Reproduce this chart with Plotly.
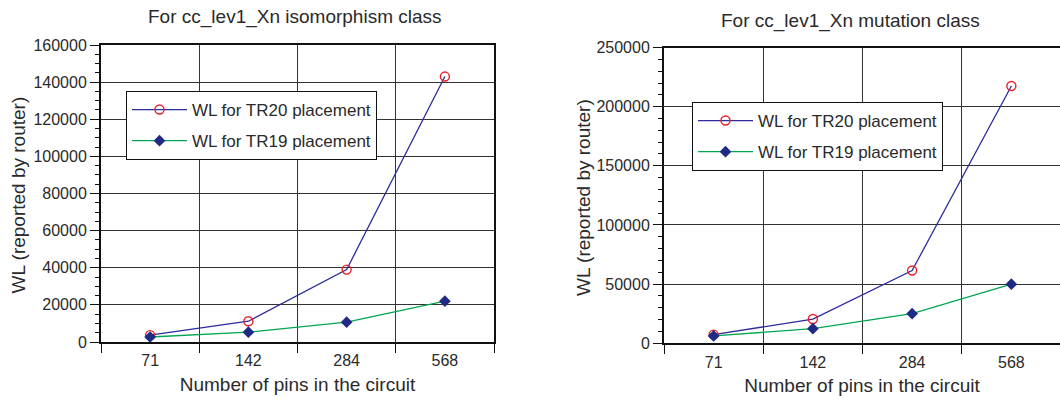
import plotly.graph_objects as go

# Circuit sizes (x categories) and wirelength results reported by the router
pins = ["71", "142", "284", "568"]

iso_tr20 = [3700, 11200, 39000, 143000]
iso_tr19 = [2700, 5300, 10700, 22000]

mut_tr20 = [7300, 20500, 61500, 217500]
mut_tr19 = [6200, 12400, 25000, 50000]

name_tr20 = "WL for TR20 placement"
name_tr19 = "WL for TR19 placement"

FONT = "Liberation Sans, Arial, sans-serif"
TEXT = "#2a2a2a"
LINE20 = "#2c2c9c"
LINE19 = "#00a651"
MARK20 = "#e8202a"
MARK19 = "#1f2a85"

W, H = 1060, 402


def px_x(v):
    return v / W


def px_y(v):
    return (H - v) / H


fig = go.Figure()


def add_pair(xaxis, yaxis, legend, tr20, tr19):
    fig.add_trace(go.Scatter(
        x=pins, y=tr20, name=name_tr20, mode="lines+markers",
        xaxis=xaxis, yaxis=yaxis, legend=legend, legendgroup=legend + "a",
        line=dict(color=LINE20, width=1.3),
        marker=dict(symbol="circle-open", size=9, color=MARK20,
                    line=dict(color=MARK20, width=1.4)),
    ))
    fig.add_trace(go.Scatter(
        x=pins, y=tr19, name=name_tr19, mode="lines+markers",
        xaxis=xaxis, yaxis=yaxis, legend=legend, legendgroup=legend + "b",
        line=dict(color=LINE19, width=1.3),
        marker=dict(symbol="diamond", size=9, color=MARK19),
    ))


add_pair("x", "y", "legend", iso_tr20, iso_tr19)
add_pair("x2", "y2", "legend2", mut_tr20, mut_tr19)

xcommon = dict(
    type="category", tickson="boundaries", automargin=False,
    showline=True, linecolor="#111", linewidth=2,
    ticks="outside", ticklen=9, tickwidth=1, tickcolor="#111",
    ticklabelstandoff=3,
    showgrid=True, gridcolor="#333", gridwidth=1,
    tickfont=dict(family=FONT, size=16, color=TEXT),
    title=dict(text="Number of pins in the circuit",
               font=dict(family=FONT, size=19, color=TEXT), standoff=9),
)

ycommon = dict(
    automargin=False,
    showline=True, linecolor="#111", linewidth=2,
    ticks="outside", ticklen=9, tickwidth=1, tickcolor="#111",
    showgrid=True, gridcolor="#333", gridwidth=1,
    zeroline=False, tickformat="d",
    tickfont=dict(family=FONT, size=16, color=TEXT),
)

legend_common = dict(
    xanchor="left", yanchor="top",
    bgcolor="white", bordercolor="#111", borderwidth=1,
    font=dict(family=FONT, size=17, color=TEXT),
    traceorder="grouped", tracegroupgap=6, itemwidth=55,
)

ytitle = "WL (reported by router)"

fig.update_layout(
    width=W, height=H,
    margin=dict(l=0, r=0, t=0, b=0),
    paper_bgcolor="white", plot_bgcolor="white",
    showlegend=True,
    xaxis=dict(xcommon, domain=[px_x(101), px_x(494)], anchor="y", mirror=True,
               range=[-0.5, 3.5]),
    yaxis=dict(ycommon, domain=[px_y(342), px_y(45)], anchor="x", mirror=True,
               range=[0, 160000], dtick=20000,
               minor=dict(dtick=5000, ticks="outside", ticklen=4,
                          tickcolor="#111", showgrid=False)),
    xaxis2=dict(xcommon, domain=[px_x(664), 1.0], anchor="y2", mirror=True,
                range=[-0.5, 3.49]),
    yaxis2=dict(ycommon, domain=[px_y(343.3), px_y(47.5)], anchor="x2", mirror=False,
                range=[0, 250000], dtick=50000,
                minor=dict(dtick=10000, ticks="outside", ticklen=4,
                           tickcolor="#111", showgrid=False)),
    legend=dict(legend_common, x=px_x(126), y=px_y(91)),
    legend2=dict(legend_common, x=px_x(692), y=px_y(102)),
    annotations=[
        dict(text="For cc_lev1_Xn isomorphism class", x=px_x(295), y=px_y(17),
             xref="paper", yref="paper", xanchor="center", yanchor="middle",
             showarrow=False, font=dict(family=FONT, size=19, color=TEXT)),
        dict(text="For cc_lev1_Xn mutation class", x=px_x(850), y=px_y(21),
             xref="paper", yref="paper", xanchor="center", yanchor="middle",
             showarrow=False, font=dict(family=FONT, size=19, color=TEXT)),
        dict(text=ytitle, x=px_x(18.5), y=px_y(195), textangle=-90,
             xref="paper", yref="paper", xanchor="center", yanchor="middle",
             showarrow=False, font=dict(family=FONT, size=19, color=TEXT)),
        dict(text=ytitle, x=px_x(583), y=px_y(198), textangle=-90,
             xref="paper", yref="paper", xanchor="center", yanchor="middle",
             showarrow=False, font=dict(family=FONT, size=19, color=TEXT)),
    ],
)

fig.write_html("out.html")
